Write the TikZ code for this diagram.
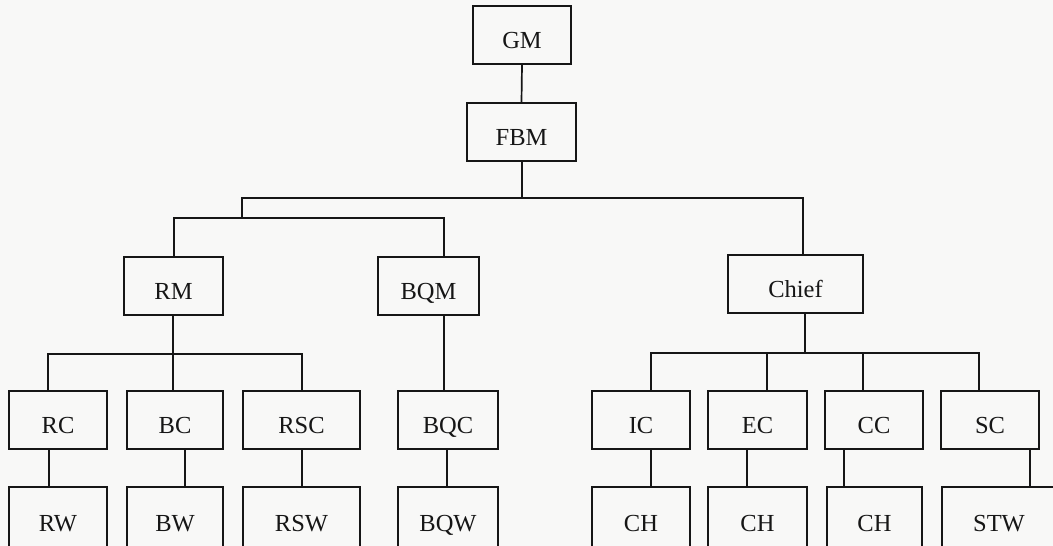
\documentclass[tikz,border=0pt]{standalone}
\usepackage{fontspec}
\setmainfont{Liberation Serif}
\definecolor{bg}{RGB}{248,248,247}
\definecolor{ink}{RGB}{22,22,22}
\begin{document}
\begin{tikzpicture}[x=1pt,y=-1pt,
  conn/.style={line width=1.7pt, draw=ink},
  box/.style={draw=ink, line width=1.7pt, fill=bg, inner sep=0pt, minimum height=58pt,
    text height=27pt, text depth=0pt, font=\fontsize{24.5}{28}\selectfont, text=ink},
  lowbox/.style={box, minimum height=70pt, text height=18pt}]
\useasboundingbox (0,0) rectangle (1053,546);
\fill[bg] (0,0) rectangle (1053,546);
\clip (0,0) rectangle (1053,546);
% level 1-2
\node[box, minimum width=98pt] (gm) at (522,35) {GM};
\node[box, minimum width=109pt] (fbm) at (521.5,132) {FBM};
% level 3
\node[box, minimum width=99pt] (rm) at (173.5,286) {RM};
\node[box, minimum width=101pt] (bqm) at (428.5,286) {BQM};
\node[box, minimum width=135pt] (chief) at (795.5,284) {Chief};
% level 4
\node[box, minimum width=98pt] (rc) at (58,420) {RC};
\node[box, minimum width=96pt] (bc) at (175,420) {BC};
\node[box, minimum width=117pt] (rsc) at (301.5,420) {RSC};
\node[box, minimum width=100pt] (bqc) at (448,420) {BQC};
\node[box, minimum width=98pt] (ic) at (641,420) {IC};
\node[box, minimum width=99pt] (ec) at (757.5,420) {EC};
\node[box, minimum width=98pt] (cc) at (874,420) {CC};
\node[box, minimum width=98pt] (sc) at (990,420) {SC};
% level 5
\node[lowbox, minimum width=98pt] (rw) at (58,522) {RW};
\node[lowbox, minimum width=96pt] (bw) at (175,522) {BW};
\node[lowbox, minimum width=117pt] (rsw) at (301.5,522) {RSW};
\node[lowbox, minimum width=100pt] (bqw) at (448,522) {BQW};
\node[lowbox, minimum width=98pt] (ch1) at (641,522) {CH};
\node[lowbox, minimum width=99pt] (ch2) at (757.5,522) {CH};
\node[lowbox, minimum width=95pt] (ch3) at (874.5,522) {CH};
\node[lowbox, minimum width=114pt] (stw) at (999,522) {STW};
% junction coordinates
\coordinate (b1) at (522,198);
\coordinate (b1l) at (242,198);
\coordinate (b1r) at (803,198);
\coordinate (b2m) at (242,218);
\coordinate (b2l) at (174,218);
\coordinate (b2r) at (444,218);
\coordinate (b3) at (173,354);
\coordinate (b3l) at (48,354);
\coordinate (b3m) at (173,354);
\coordinate (b3r) at (302,354);
\coordinate (b4) at (805,353);
\coordinate (b4a) at (651,353);
\coordinate (b4b) at (767,353);
\coordinate (b4c) at (863,353);
\coordinate (b4d) at (979,353);
\coordinate (v1) at (49,0);
\coordinate (v2) at (185,0);
\coordinate (v3) at (302,0);
\coordinate (v4) at (447,0);
\coordinate (v5) at (651,0);
\coordinate (v6) at (747,0);
\coordinate (v7) at (844,0);
\coordinate (v8) at (1030,0);
% connectors
\begin{scope}[line cap=rect]
\draw[conn] (gm.south) -- (fbm.north);
\draw[conn] (fbm.south -| b1) -- (b1);
\draw[conn] (b1l) -- (b1r);
\draw[conn] (b1l) -- (b2m);
\draw[conn] (b2l) -- (b2r);
\draw[conn] (b2l) -- (b2l |- rm.north);
\draw[conn] (b2r) -- (b2r |- bqm.north);
\draw[conn] (b1r) -- (b1r |- chief.north);
\draw[conn] (b3 |- rm.south) -- (b3);
\draw[conn] (b3l) -- (b3r);
\draw[conn] (b3l) -- (b3l |- rc.north);
\draw[conn] (b3m) -- (b3m |- bc.north);
\draw[conn] (b3r) -- (b3r |- rsc.north);
\draw[conn] (b2r |- bqm.south) -- (b2r |- bqc.north);
\draw[conn] (b4 |- chief.south) -- (b4);
\draw[conn] (b4a) -- (b4d);
\draw[conn] (b4a) -- (b4a |- ic.north);
\draw[conn] (b4b) -- (b4b |- ec.north);
\draw[conn] (b4c) -- (b4c |- cc.north);
\draw[conn] (b4d) -- (b4d |- sc.north);
\draw[conn] (v1 |- rc.south) -- (v1 |- rw.north);
\draw[conn] (v2 |- bc.south) -- (v2 |- bw.north);
\draw[conn] (v3 |- rsc.south) -- (v3 |- rsw.north);
\draw[conn] (v4 |- bqc.south) -- (v4 |- bqw.north);
\draw[conn] (v5 |- ic.south) -- (v5 |- ch1.north);
\draw[conn] (v6 |- ec.south) -- (v6 |- ch2.north);
\draw[conn] (v7 |- cc.south) -- (v7 |- ch3.north);
\draw[conn] (v8 |- sc.south) -- (v8 |- stw.north);
\end{scope}
\end{tikzpicture}
\end{document}
